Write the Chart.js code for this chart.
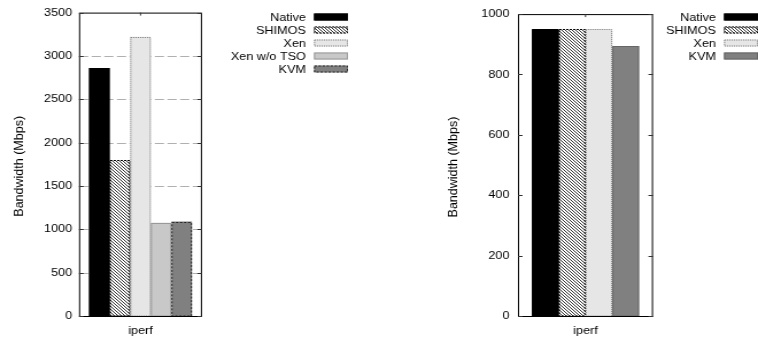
<!DOCTYPE html>
<html><head><meta charset="utf-8">
<script src="https://cdn.jsdelivr.net/npm/chart.js@4"></script>
<style>
html,body{margin:0;padding:0;background:#fff;width:758px;height:337px;overflow:hidden}
.wrap{position:absolute;top:0;width:330px;height:337px;transform-origin:0 0;transform:scaleX(1.14848)}
#w1{left:0}
#w2{left:379px}
canvas{display:block}
</style></head><body>
<div class="wrap" id="w1"><canvas id="c1" width="330" height="337"></canvas></div>
<div class="wrap" id="w2"><canvas id="c2" width="330" height="337"></canvas></div>
<script>
// ---- data ----
const categories = ['iperf'];
const leftSeries = ['Native', 'SHIMOS', 'Xen', 'Xen w/o TSO', 'KVM'];
const leftValues = [2860, 1800, 3220, 1075, 1090];
const leftTicks = [0, 500, 1000, 1500, 2000, 2500, 3000, 3500];
const rightSeries = ['Native', 'SHIMOS', 'Xen', 'KVM'];
const rightValues = [949, 949, 949, 894];
const rightTicks = [0, 200, 400, 600, 800, 1000];
const yTitle = 'Bandwidth (Mbps)';

// ---- styles ----
const FONT = '"Liberation Sans", Arial, Helvetica, sans-serif';
function hatch() {
  const n = 3;
  const c = document.createElement('canvas'); c.width = n; c.height = n;
  const g = c.getContext('2d');
  g.fillStyle = '#fff'; g.fillRect(0, 0, n, n);
  g.strokeStyle = '#000'; g.lineWidth = 0.8;
  g.beginPath();
  g.moveTo(-1, -1); g.lineTo(n + 1, n + 1);
  g.moveTo(-1, n - 1); g.lineTo(1, n + 1);
  g.moveTo(n - 1, -1); g.lineTo(n + 1, 1);
  g.stroke();
  return g.createPattern(c, 'repeat');
}
const HATCH = hatch();
const styleLeft = {
  'Native': {bg: '#000000', bc: '#000000', dash: []},
  'SHIMOS': {bg: HATCH, bc: '#000000', dash: [2, 1]},
  'Xen': {bg: '#e6e6e6', bc: '#777777', dash: [1, 1]},
  'Xen w/o TSO': {bg: '#c8c8c8', bc: '#999999', dash: []},
  'KVM': {bg: '#808080', bc: '#222222', dash: [2, 1.5]}
};
const styleRight = {
  'Native': {bg: '#000000', bc: '#000000', dash: []},
  'SHIMOS': {bg: HATCH, bc: '#000000', dash: [2, 1]},
  'Xen': {bg: '#e6e6e6', bc: '#777777', dash: [1, 1]},
  'KVM': {bg: '#808080', bc: '#666666', dash: []}
};

const framePlugin = {
  id: 'gframe',
  beforeDatasetsDraw(chart, args, o) {
    if (!o.grid) return;
    const {ctx, chartArea: a} = chart; const ys = chart.scales.y;
    ctx.save();
    ctx.strokeStyle = '#b0b0b0'; ctx.lineWidth = 1; ctx.setLineDash([8, 3]);
    o.ticks.forEach(v => {
      if (v === o.ticks[0] || v === o.ticks[o.ticks.length - 1]) return;
      const y = Math.round(ys.getPixelForValue(v)) + 0.5;
      ctx.beginPath(); ctx.moveTo(a.left, y); ctx.lineTo(a.right, y); ctx.stroke();
    });
    ctx.restore();
  },
  afterDatasetsDraw(chart, args, o) {
    const {ctx, chartArea: a} = chart; const ys = chart.scales.y; const xs = chart.scales.x;
    ctx.save();
    // bar outlines
    chart.data.datasets.forEach((ds, i) => {
      const meta = chart.getDatasetMeta(i);
      meta.data.forEach(el => {
        const p = el.getProps(['x', 'y', 'width', 'base'], true);
        ctx.strokeStyle = ds.outlineColor; ctx.lineWidth = 1; ctx.setLineDash(ds.outlineDash);
        const l = p.x - p.width / 2, t = Math.round(p.y) + 0.5;
        ctx.strokeRect(l + 0.5, t, p.width - 1, p.base - t);
      });
    });
    ctx.setLineDash([]);
    // frame
    ctx.strokeStyle = '#000'; ctx.lineWidth = 1;
    ctx.strokeRect(a.left + 0.5, a.top + 0.5, a.right - a.left - 1, a.bottom - a.top);
    // inward ticks on left and right
    ctx.strokeStyle = '#333';
    o.ticks.forEach(v => {
      const y = Math.round(ys.getPixelForValue(v)) + 0.5;
      ctx.beginPath();
      ctx.moveTo(a.left, y); ctx.lineTo(a.left + 4, y);
      ctx.moveTo(a.right, y); ctx.lineTo(a.right - 4, y);
      ctx.stroke();
    });
    // top tick at category
    const cx = xs.getPixelForValue(0);
    ctx.beginPath(); ctx.moveTo(cx, a.top); ctx.lineTo(cx, a.top + 3); ctx.stroke();
    ctx.restore();
  },
  afterDraw(chart, args, o) {
    const {ctx, chartArea: a} = chart;
    ctx.save();
    // legend
    ctx.font = '11px ' + FONT;
    ctx.textAlign = 'right'; ctx.textBaseline = 'middle';
    chart.data.datasets.forEach((ds, i) => {
      const y = o.legendTop + i * 13;
      ctx.fillStyle = '#000';
      ctx.fillText(ds.label, o.textRight, y + 0.5);
      ctx.fillStyle = ds.backgroundColor;
      ctx.fillRect(o.boxLeft, y - 3.5, o.boxWidth, 7);
      ctx.strokeStyle = ds.outlineColor; ctx.lineWidth = 1; ctx.setLineDash(ds.outlineDash);
      ctx.strokeRect(o.boxLeft + 0.5, y - 3, o.boxWidth - 1, 6);
    });
    // y axis title (rotated)
    ctx.setLineDash([]);
    ctx.translate(o.titleX, (a.top + a.bottom) / 2 + 2);
    ctx.rotate(-Math.PI / 2);
    ctx.scale(1, 0.82);
    ctx.font = '12.5px ' + FONT;
    ctx.textAlign = 'center'; ctx.textBaseline = 'middle';
    ctx.fillStyle = '#000';
    ctx.fillText(o.title, 0, 0);
    ctx.restore();
  }
};

function makeChart(id, names, values, ticks, styles, cfg) {
  const datasets = names.map((n, i) => ({
    label: n,
    data: [values[i]],
    backgroundColor: styles[n].bg,
    borderWidth: 0,
    outlineColor: styles[n].bc,
    outlineDash: styles[n].dash,
    categoryPercentage: cfg.catPct,
    barPercentage: 1.0
  }));
  return new Chart(document.getElementById(id), {
    type: 'bar',
    data: {labels: categories, datasets},
    plugins: [framePlugin],
    options: {
      responsive: false, animation: false, devicePixelRatio: 1,
      layout: {padding: {left: cfg.padL, right: cfg.padR, top: 11, bottom: 0}},
      plugins: {
        legend: {display: false}, tooltip: {enabled: false},
        gframe: {grid: cfg.grid, ticks, legendTop: 17, textRight: cfg.textRight, boxLeft: cfg.boxLeft, boxWidth: 29.6,
                 title: yTitle, titleX: cfg.titleX}
      },
      scales: {
        x: {
          grid: {display: false, drawTicks: false}, border: {display: false},
          ticks: {color: '#000', font: {family: FONT, size: 11}, padding: 8},
          afterFit: s => { s.height = 21; }
        },
        y: {
          min: ticks[0], max: ticks[ticks.length - 1],
          grid: {display: false, drawTicks: false}, border: {display: false},
          ticks: {stepSize: ticks[1] - ticks[0], color: '#000', font: {family: FONT, size: 11}, padding: cfg.tickPad,
                  callback: v => String(v)},
          title: {display: false},
          afterFit: s => { s.width = cfg.yWidth; }
        }
      }
    }
  });
}

makeChart('c1', leftSeries, leftValues, leftTicks, styleLeft,
  {catPct: 0.837, padL: 0, padR: 154.1, yWidth: 68.8, tickPad: 6, grid: true, textRight: 266.4, boxLeft: 273.4, titleX: 17});
makeChart('c2', rightSeries, rightValues, rightTicks, styleRight,
  {catPct: 0.793, padL: 55, padR: 91.4, yWidth: 66.0, tickPad: 7.5, grid: false, textRight: 293.4, boxLeft: 300.4, titleX: 65.1});
</script>
</body></html>
